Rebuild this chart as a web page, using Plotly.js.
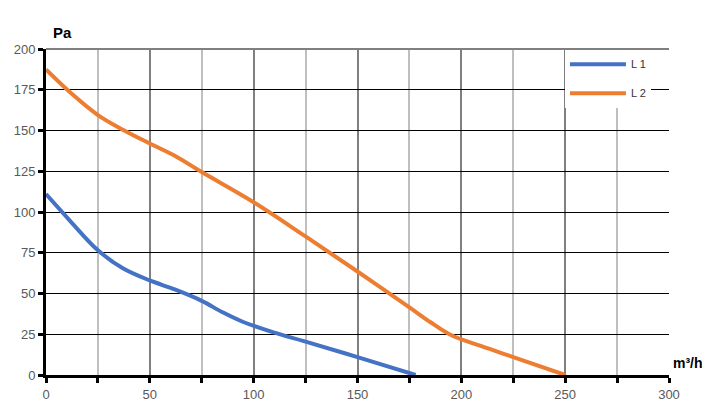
<!DOCTYPE html>
<html>
<head>
<meta charset="utf-8">
<script src="https://cdn.plot.ly/plotly-3.0.1.min.js"></script>
<style>
  html, body { margin: 0; padding: 0; background: #fff; }
  #plot { width: 722px; height: 417px; }
</style>
</head>
<body>
<div id="plot"></div>
<script>
// airflow (m³/h) vs pressure (Pa)
const flowL1 = [0, 12, 25, 37, 50, 62, 75, 85, 95, 110, 125, 150, 178]
const paL1 = [111, 94, 76.5, 65.5, 58, 52.5, 45.5, 38.5, 32.5, 26, 20.5, 11, 0]

const flowL2 = [0, 12, 25, 37, 50, 62, 75, 100, 125, 150, 175, 185, 195, 210, 225, 250]
const paL2 = [187.5, 173, 159.5, 150.5, 142, 134.5, 124.5, 106, 85, 63.5, 41.5, 32.5, 24.5, 17.5, 11, 0]

const names = ["L 1", "L 2"]
const colors = ["#4472c4", "#ed7d31"]

const font = "Liberation Sans, Arial, sans-serif"

function plot(){
    const data = [
        {x: flowL1, y: paL1, name: names[0], legendgroup: "a"},
        {x: flowL2, y: paL2, name: names[1], legendgroup: "b"}
    ].map(function (t, i){
        t.type = "scatter"
        t.mode = "lines"
        t.line = {color: colors[i], width: 4, shape: "spline", smoothing: 1}
        t.hoverinfo = "skip"
        return t
    })

    const layout = {
        width: 722,
        height: 417,
        margin: {l: 46, r: 53, t: 49, b: 42},
        paper_bgcolor: "#fff",
        plot_bgcolor: "#fff",
        font: {family: font, size: 13, color: "#595959"},
        showlegend: true,
        legend: {
            x: 0.833, y: 0.998, xanchor: "left", yanchor: "top",
            bgcolor: "#fff",
            borderwidth: 0,
            font: {family: font, size: 11, color: "#333"},
            tracegroupgap: 10,
            itemwidth: 56
        },
        xaxis: {
            range: [0, 300],
            dtick: 50,
            tick0: 0,
            showgrid: true,
            gridcolor: "#7f7f7f",
            gridwidth: 2,
            zeroline: false,
            showline: true,
            linecolor: "#000",
            linewidth: 3,
            ticks: "outside",
            ticklen: 5,
            tickwidth: 3,
            tickcolor: "#000",
            minor: {dtick: 25, tick0: 0, ticks: "outside", ticklen: 5, tickwidth: 3, tickcolor: "#000",
                    showgrid: true, gridcolor: "#bfbfbf", gridwidth: 2},
            fixedrange: true
        },
        yaxis: {
            range: [0, 200],
            dtick: 25,
            tick0: 0,
            showgrid: true,
            gridcolor: "#000",
            gridwidth: 1,
            zeroline: false,
            showline: true,
            linecolor: "#000",
            linewidth: 3,
            ticks: "outside",
            ticklen: 5,
            tickwidth: 3,
            tickcolor: "#000",
            fixedrange: true
        },
        shapes: [{
            type: "line", xref: "paper", yref: "paper",
            x0: 0, x1: 1, y0: 1, y1: 1,
            line: {color: "#7f7f7f", width: 2}
        }],
        annotations: [{
            text: "<b>Pa</b>", xref: "paper", yref: "paper",
            x: 0.008, y: 1, xanchor: "left", yanchor: "bottom", yshift: 6,
            showarrow: false, font: {family: font, size: 15, color: "#000"}
        }, {
            text: "<b>m³/h</b>", xref: "paper", yref: "paper",
            x: 1, y: 0, xanchor: "left", yanchor: "bottom", xshift: 2, yshift: 2,
            showarrow: false, font: {family: font, size: 14, color: "#000"}
        }]
    }

    Plotly.newPlot("plot", data, layout, {staticPlot: true})
}

plot()
</script>
</body>
</html>
